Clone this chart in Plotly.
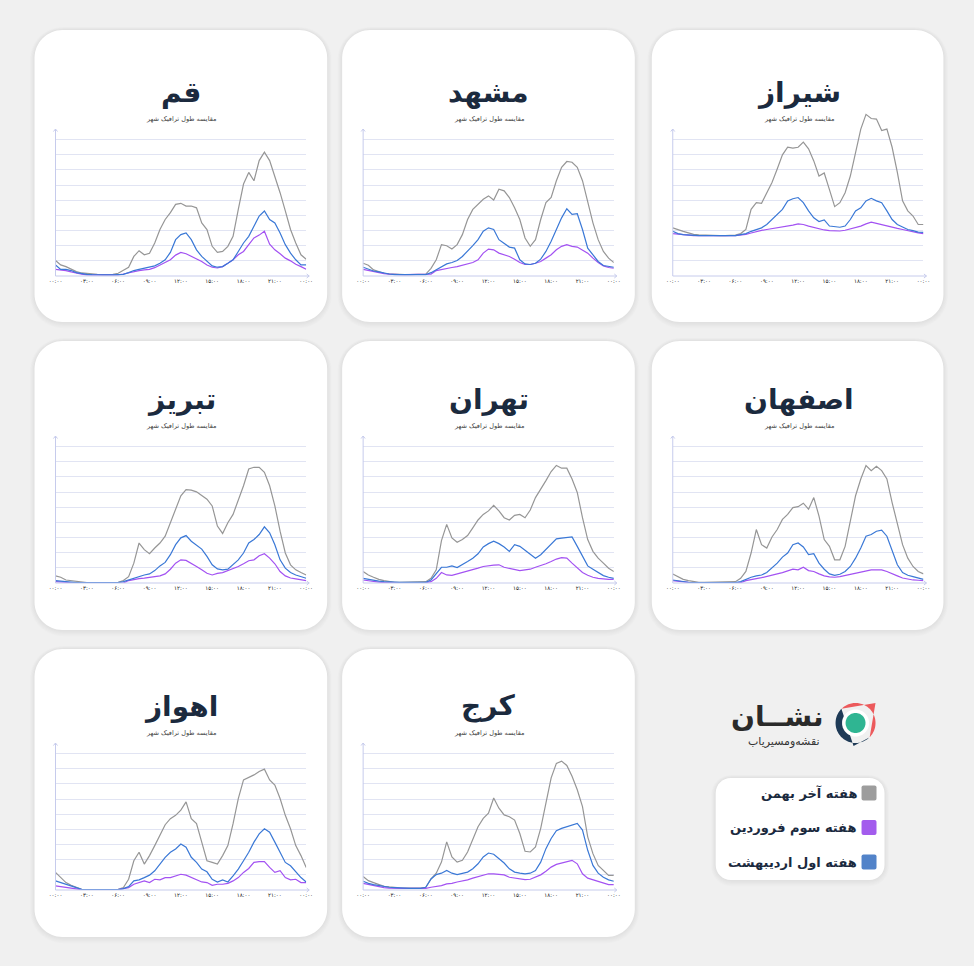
import math
import plotly.graph_objects as go

W, H = 974, 966
# horizontal calibration of the rendered page (measured from the previous renders)
X_OFF, X_SCALE = 6.45, 0.9868

def X(x):
    return ((x - X_OFF) / X_SCALE) / W

def Y(y):
    return 1 - y / H

HOURS = [0, 0.5, 1, 1.5, 2, 2.5, 3, 3.5, 4, 4.5, 5, 5.5, 6, 6.5, 7, 7.5, 8, 8.5, 9, 9.5,
         10, 10.5, 11, 11.5, 12, 12.5, 13, 13.5, 14, 14.5, 15, 15.5, 16, 16.5, 17, 17.5,
         18, 18.5, 19, 19.5, 20, 20.5, 21, 21.5, 22, 22.5, 23, 23.5, 24]
TICK_VALS = [0, 3, 6, 9, 12, 15, 18, 21, 24]
TICK_TEXT = ["۰۰:۰۰", "۰۳:۰۰", "۰۶:۰۰", "۰۹:۰۰", "۱۲:۰۰", "۱۵:۰۰", "۱۸:۰۰", "۲۱:۰۰", "۰۰:۰۰"]
SERIES_NAMES = ["هفته آخر بهمن", "هفته سوم فروردین", "هفته اول اردیبهشت"]
LINE_COLORS = ["#969696", "#a352f2", "#3a78d6"]
LEGEND_COLORS = ["#9d9d9d", "#a35ced", "#5283c9"]
SUBTITLE = "مقایسه طول ترافیک شهر"

# ---- data (relative traffic length, per half hour) ----
SHIRAZ_BAHMAN = [31.8, 30.5, 29.5, 28.5, 27.5, 27.2, 27.0, 26.8, 26.8, 26.7, 26.7, 26.8, 27.0, 28.0,
                 30.7, 44.0, 48.4, 48.0, 55.0, 61.8, 70.7, 80.0, 85.0, 84.4, 85.0, 88.4, 84.0, 76.0,
                 66.0, 68.0, 57.0, 45.8, 48.4, 55.0, 66.0, 82.0, 97.0, 106.7, 104.0, 103.6, 96.0, 97.0,
                 85.0, 68.4, 49.6, 43.0, 39.6, 34.0, 34.0]
SHIRAZ_FARVARDIN = [28.0, 27.6, 27.3, 27.0, 26.7, 26.7, 26.6, 26.6, 26.6, 26.6, 26.6, 26.6, 26.7, 26.9,
                    27.5, 28.4, 29.5, 30.1, 30.7, 31.2, 31.8, 32.3, 32.9, 33.6, 34.4, 34.0, 32.9, 31.9,
                    31.0, 30.4, 30.0, 29.8, 29.7, 30.2, 31.0, 32.0, 32.9, 34.4, 35.5, 34.7, 34.0, 33.1,
                    32.2, 31.4, 30.7, 29.8, 29.0, 28.5, 28.0]
SHIRAZ_ORDIBEHESHT = [29.5, 28.0, 27.3, 27.0, 26.7, 26.7, 26.7, 26.6, 26.6, 26.6, 26.6, 26.7, 26.7, 27.2,
                      28.0, 29.5, 30.7, 31.8, 34.0, 37.3, 40.7, 44.0, 49.6, 51.0, 51.8, 48.4, 43.0, 38.4,
                      36.0, 37.0, 33.0, 32.4, 32.2, 33.0, 37.3, 43.0, 45.0, 49.6, 51.3, 49.6, 48.4, 43.0,
                      37.3, 34.0, 32.2, 30.7, 30.0, 29.0, 28.8]

QOM_BAHMAN = [10.2, 7.3, 6.2, 4.4, 2.9, 2.0, 1.6, 1.3, 1.1, 0.9, 0.9, 1.1, 1.8, 3.6,
              5.8, 12.9, 16.7, 14.0, 15.0, 21.8, 30.7, 37.3, 41.8, 47.3, 48.0, 46.2, 46.2, 45.0,
              35.0, 30.7, 19.6, 15.6, 16.2, 19.6, 26.2, 44.0, 60.7, 68.4, 62.9, 76.2, 81.8, 76.2,
              66.2, 55.0, 43.0, 30.7, 21.8, 14.0, 11.1]
QOM_FARVARDIN = [4.4, 4.0, 3.6, 2.7, 1.8, 1.2, 0.7, 0.7, 0.7, 0.7, 0.7, 0.7, 0.7, 1.3,
                 2.2, 2.9, 3.6, 4.0, 4.4, 5.5, 7.3, 8.9, 10.7, 13.8, 15.6, 14.7, 12.9, 11.6,
                 9.6, 7.3, 5.8, 5.3, 6.2, 8.4, 10.7, 14.0, 16.2, 20.7, 25.1, 27.0, 29.6, 21.0,
                 17.3, 14.7, 11.8, 10.0, 7.8, 6.2, 4.4]
QOM_ORDIBEHESHT = [7.3, 4.4, 4.4, 3.6, 2.2, 1.6, 1.1, 0.9, 0.7, 0.7, 0.7, 0.7, 0.7, 1.1,
                   2.2, 3.6, 4.4, 5.1, 5.8, 6.7, 8.4, 10.7, 15.6, 24.0, 27.3, 28.4, 24.0, 17.3,
                   12.9, 9.6, 6.7, 5.8, 6.2, 8.4, 10.7, 16.2, 21.8, 26.2, 32.9, 39.6, 42.9, 37.3,
                   35.0, 28.4, 20.7, 15.1, 10.7, 7.3, 7.3]

MASHHAD_BAHMAN = [8.4, 7.1, 4.0, 2.9, 1.8, 1.4, 1.1, 1.0, 0.9, 0.9, 0.9, 0.9, 1.3, 5.1,
                  10.7, 20.7, 20.0, 17.8, 20.7, 27.3, 37.3, 44.0, 47.3, 50.7, 52.9, 50.2, 57.3, 56.2,
                  51.8, 45.1, 37.3, 25.1, 19.6, 24.0, 37.3, 48.4, 51.8, 62.9, 71.8, 75.6, 75.1, 71.8,
                  62.9, 48.4, 35.1, 24.0, 16.2, 11.8, 8.9]
MASHHAD_FARVARDIN = [4.4, 3.6, 2.9, 2.2, 1.6, 1.2, 0.9, 0.9, 0.9, 0.9, 0.9, 0.9, 0.9, 1.3,
                     3.6, 4.4, 4.9, 5.6, 6.2, 7.1, 8.0, 8.9, 10.7, 15.1, 17.8, 17.3, 15.1, 14.2,
                     12.9, 11.1, 8.9, 7.6, 7.6, 8.4, 9.6, 11.8, 14.0, 17.3, 19.6, 20.7, 19.6, 19.1,
                     17.3, 15.1, 11.8, 8.9, 6.7, 5.6, 5.1]
MASHHAD_ORDIBEHESHT = [5.8, 4.4, 3.3, 2.7, 1.8, 1.3, 0.9, 0.9, 0.9, 0.9, 0.9, 0.9, 0.9, 2.2,
                       4.0, 6.2, 8.0, 8.9, 10.2, 12.9, 16.2, 20.0, 24.0, 29.6, 31.8, 30.7, 24.0, 21.3,
                       19.1, 18.4, 10.7, 8.0, 7.6, 8.4, 11.1, 16.2, 22.9, 30.7, 38.4, 44.4, 40.7, 41.1,
                       30.7, 18.4, 14.0, 9.6, 6.9, 6.2, 5.8]

TABRIZ_BAHMAN = [4.7, 3.8, 2.0, 1.6, 0.9, 0.5, 0.2, 0.2, 0.2, 0.2, 0.2, 0.2, 0.4, 1.6,
                 4.2, 13.1, 26.4, 22.0, 19.3, 23.1, 26.4, 30.9, 39.8, 48.7, 57.6, 61.6, 61.3, 60.2,
                 57.6, 55.3, 50.9, 37.6, 32.7, 39.8, 45.3, 54.2, 64.2, 75.3, 76.4, 76.4, 73.1, 64.2,
                 50.9, 34.2, 19.8, 12.0, 8.7, 6.9, 5.3]
TABRIZ_FARVARDIN = [0.9, 0.6, 0.4, 0.2, 0.0, 0.0, 0.0, 0.0, 0.0, 0.0, 0.0, 0.0, 0.0, 0.0,
                    1.6, 2.4, 2.9, 3.2, 3.6, 4.2, 4.7, 6.0, 9.1, 13.1, 15.3, 14.9, 13.1, 10.9,
                    8.7, 6.4, 5.3, 6.4, 6.9, 8.2, 9.1, 10.9, 12.7, 14.7, 15.3, 18.0, 19.3, 16.4,
                    12.7, 7.6, 4.7, 3.3, 2.7, 2.0, 1.6]
TABRIZ_ORDIBEHESHT = [1.6, 1.2, 0.9, 0.5, 0.2, 0.2, 0.2, 0.2, 0.2, 0.2, 0.2, 0.2, 0.2, 0.9,
                      2.0, 3.3, 4.2, 5.3, 6.0, 8.2, 11.3, 13.6, 18.7, 25.3, 29.8, 31.3, 27.6, 24.7,
                      22.4, 17.6, 12.0, 9.3, 8.7, 9.1, 12.0, 15.3, 19.8, 26.4, 28.7, 32.0, 37.1, 33.1,
                      25.3, 15.3, 9.8, 6.9, 5.3, 4.2, 3.1]

TEHRAN_BAHMAN = [7.6, 5.3, 3.8, 2.4, 1.6, 0.9, 0.4, 0.4, 0.4, 0.4, 0.4, 0.4, 0.9, 3.1,
                 8.7, 28.0, 38.7, 29.8, 26.9, 28.7, 31.3, 36.4, 41.6, 45.3, 47.6, 51.3, 47.6, 43.1,
                 41.6, 44.7, 45.3, 43.1, 48.2, 56.4, 61.6, 67.6, 73.6, 77.6, 75.8, 75.8, 68.7, 59.8,
                 43.1, 28.7, 20.9, 16.4, 13.1, 9.8, 7.6]
TEHRAN_FARVARDIN = [2.0, 1.4, 0.9, 0.6, 0.2, 0.2, 0.2, 0.2, 0.2, 0.2, 0.2, 0.2, 0.2, 0.9,
                    3.1, 6.9, 5.3, 5.1, 6.0, 6.9, 7.6, 8.7, 9.8, 10.9, 11.6, 11.8, 12.0, 10.4,
                    9.6, 8.7, 8.2, 8.7, 9.1, 10.4, 11.3, 12.7, 14.2, 15.8, 16.7, 16.4, 13.1, 9.8,
                    6.9, 5.1, 3.8, 3.1, 2.7, 2.4, 2.4]
TEHRAN_ORDIBEHESHT = [3.1, 2.4, 1.6, 1.2, 0.9, 0.6, 0.4, 0.4, 0.4, 0.4, 0.4, 0.4, 0.4, 2.0,
                      6.4, 10.4, 10.4, 11.3, 10.2, 12.0, 14.2, 16.4, 19.3, 23.8, 26.0, 27.6, 26.0, 23.8,
                      20.9, 25.3, 24.2, 21.6, 18.7, 16.4, 18.7, 22.0, 25.3, 29.1, 29.6, 30.2, 30.4, 24.2,
                      17.6, 11.3, 9.1, 6.9, 4.9, 3.8, 3.1]

ISFAHAN_BAHMAN = [6.0, 4.2, 2.4, 1.6, 0.9, 0.4, 0.4, 0.4, 0.4, 0.4, 0.4, 0.4, 0.9, 3.1,
                  7.6, 19.8, 35.3, 25.3, 23.1, 30.4, 35.3, 42.0, 45.3, 49.8, 50.4, 52.7, 48.7, 56.4,
                  44.2, 28.7, 24.2, 15.3, 15.3, 24.2, 39.8, 57.6, 68.7, 77.6, 74.2, 77.1, 74.2, 68.7,
                  53.1, 39.8, 25.3, 16.4, 10.9, 7.6, 6.0]
ISFAHAN_FARVARDIN = [1.6, 1.1, 0.7, 0.4, 0.2, 0.2, 0.2, 0.2, 0.2, 0.2, 0.2, 0.2, 0.2, 0.2,
                     1.6, 2.4, 2.9, 3.5, 4.2, 5.1, 6.0, 6.9, 7.8, 9.1, 8.7, 10.4, 8.2, 7.6,
                     6.0, 4.7, 4.0, 3.8, 4.2, 4.9, 5.6, 6.4, 6.9, 7.6, 8.7, 8.7, 8.7, 7.6,
                     6.4, 4.7, 3.3, 2.4, 2.0, 1.8, 1.6]
ISFAHAN_ORDIBEHESHT = [2.0, 1.4, 0.9, 0.5, 0.2, 0.2, 0.2, 0.2, 0.2, 0.2, 0.2, 0.2, 0.2, 0.9,
                       2.4, 3.8, 4.7, 5.3, 6.9, 9.8, 13.1, 17.1, 19.8, 25.3, 26.4, 23.8, 18.7, 19.3,
                       13.1, 9.1, 6.0, 5.1, 5.8, 7.6, 10.9, 16.4, 23.1, 30.9, 32.0, 34.2, 34.9, 30.9,
                       22.0, 12.0, 6.9, 5.1, 4.2, 3.3, 2.4]

AHVAZ_BAHMAN = [11.6, 8.2, 4.9, 3.1, 1.6, 0.4, 0.2, 0.2, 0.2, 0.2, 0.2, 0.2, 0.4, 1.6,
                7.1, 19.3, 24.9, 17.1, 22.7, 29.3, 36.0, 43.1, 47.1, 49.3, 52.7, 58.2, 47.1, 43.8,
                31.6, 19.3, 18.2, 17.1, 22.7, 29.3, 43.8, 60.4, 72.7, 74.2, 76.0, 78.2, 79.8, 72.7,
                69.3, 60.4, 49.3, 40.4, 29.3, 22.7, 14.9]
AHVAZ_FARVARDIN = [2.7, 2.2, 1.6, 0.9, 0.4, 0.2, 0.2, 0.2, 0.2, 0.2, 0.2, 0.2, 0.2, 0.9,
                   1.6, 3.8, 4.9, 6.0, 4.9, 7.1, 6.7, 8.2, 8.2, 9.3, 10.4, 9.8, 8.2, 6.7,
                   5.3, 4.9, 3.1, 3.8, 3.8, 4.4, 6.0, 8.2, 11.6, 14.2, 18.2, 18.7, 18.7, 14.9,
                   11.6, 12.7, 8.2, 6.7, 7.1, 4.9, 4.9]
AHVAZ_ORDIBEHESHT = [6.0, 4.9, 3.3, 2.2, 1.6, 0.4, 0.2, 0.2, 0.2, 0.2, 0.2, 0.2, 0.2, 0.9,
                     2.2, 6.0, 6.7, 8.2, 9.8, 12.7, 17.1, 21.6, 24.9, 27.1, 30.4, 28.2, 21.6, 18.2,
                     13.8, 12.0, 7.1, 5.3, 6.7, 5.3, 9.3, 13.8, 19.3, 24.9, 31.6, 37.1, 40.4, 38.2,
                     31.6, 24.9, 18.2, 16.0, 12.0, 8.2, 5.3]

KARAJ_BAHMAN = [8.9, 6.2, 4.9, 3.6, 2.4, 2.0, 1.6, 1.4, 1.3, 1.2, 1.1, 1.3, 1.8, 7.3,
                11.1, 18.4, 31.8, 21.8, 18.4, 19.6, 25.1, 32.9, 41.8, 47.3, 50.7, 60.7, 54.0, 49.6,
                48.4, 46.2, 37.3, 25.6, 25.1, 28.4, 40.7, 57.3, 74.0, 83.6, 85.1, 82.2, 75.1, 66.2,
                55.1, 35.1, 24.0, 16.2, 12.9, 9.6, 9.6]
KARAJ_FARVARDIN = [4.4, 3.6, 2.9, 2.2, 1.6, 1.3, 1.1, 1.1, 1.1, 1.1, 1.1, 1.1, 1.1, 1.8,
                   2.2, 2.9, 4.0, 4.4, 5.3, 5.8, 6.7, 7.8, 8.9, 9.8, 10.7, 10.7, 10.2, 10.0,
                   8.4, 8.0, 7.6, 6.9, 7.1, 8.4, 10.0, 12.4, 15.1, 16.9, 17.8, 18.9, 19.6, 17.3,
                   10.7, 7.8, 6.7, 5.6, 4.4, 3.6, 3.6]
KARAJ_ORDIBEHESHT = [5.8, 4.4, 3.6, 2.9, 2.2, 1.8, 1.6, 1.3, 1.1, 1.1, 1.1, 1.1, 1.8, 7.3,
                     10.2, 11.1, 12.9, 11.1, 10.2, 11.1, 11.8, 14.0, 17.3, 21.8, 24.4, 23.6, 20.7, 17.8,
                     14.0, 11.8, 11.1, 10.7, 11.1, 12.9, 18.4, 27.3, 34.0, 39.1, 40.7, 41.8, 42.9, 44.0,
                     39.6, 26.2, 16.2, 11.1, 8.4, 6.7, 5.8]

CITIES = ["قم", "مشهد", "شیراز", "تبریز", "تهران", "اصفهان", "اهواز", "کرج"]
CITY_DATA = [
    (QOM_BAHMAN, QOM_FARVARDIN, QOM_ORDIBEHESHT),
    (MASHHAD_BAHMAN, MASHHAD_FARVARDIN, MASHHAD_ORDIBEHESHT),
    (SHIRAZ_BAHMAN, SHIRAZ_FARVARDIN, SHIRAZ_ORDIBEHESHT),
    (TABRIZ_BAHMAN, TABRIZ_FARVARDIN, TABRIZ_ORDIBEHESHT),
    (TEHRAN_BAHMAN, TEHRAN_FARVARDIN, TEHRAN_ORDIBEHESHT),
    (ISFAHAN_BAHMAN, ISFAHAN_FARVARDIN, ISFAHAN_ORDIBEHESHT),
    (AHVAZ_BAHMAN, AHVAZ_FARVARDIN, AHVAZ_ORDIBEHESHT),
    (KARAJ_BAHMAN, KARAJ_FARVARDIN, KARAJ_ORDIBEHESHT),
]
# chart anchor (left, top) of each card's content
CARD_POS = [(34, 30), (342, 30), (652, 30), (34, 337), (342, 337), (652, 337), (34, 644), (342, 644)]
# card rectangles (x0, y0, x1, y1)
COL_X = [(34, 327), (342, 635), (652, 944)]
ROW_Y = [(30, 322), (341, 630), (649, 937)]

FONT = "DejaVu Sans"
NAVY = "#1b2a3e"


def rrect(x0, y0, x1, y1, r):
    k = 0.5523 * r
    pts = [
        f"M {X(x0 + r)},{Y(y0)}",
        f"L {X(x1 - r)},{Y(y0)}",
        f"C {X(x1 - r + k)},{Y(y0)} {X(x1)},{Y(y0 + r - k)} {X(x1)},{Y(y0 + r)}",
        f"L {X(x1)},{Y(y1 - r)}",
        f"C {X(x1)},{Y(y1 - r + k)} {X(x1 - r + k)},{Y(y1)} {X(x1 - r)},{Y(y1)}",
        f"L {X(x0 + r)},{Y(y1)}",
        f"C {X(x0 + r - k)},{Y(y1)} {X(x0)},{Y(y1 - r + k)} {X(x0)},{Y(y1 - r)}",
        f"L {X(x0)},{Y(y0 + r)}",
        f"C {X(x0)},{Y(y0 + r - k)} {X(x0 + r - k)},{Y(y0)} {X(x0 + r)},{Y(y0)}",
        "Z",
    ]
    return " ".join(pts)


def card(shapes, x0, y0, x1, y1, r):
    for s in range(8, 0, -1):
        shapes.append(dict(type="path", xref="paper", yref="paper", layer="below",
                           path=rrect(x0 - s * 0.6, y0 - s * 0.4, x1 + s * 0.6, y1 + s * 0.8, r + s * 0.6),
                           fillcolor="rgba(0,0,0,0.009)", line=dict(width=0)))
    shapes.append(dict(type="path", xref="paper", yref="paper", layer="below",
                       path=rrect(x0, y0, x1, y1, r), fillcolor="#ffffff", line=dict(width=0)))


def poly(points):
    s = "M " + " L ".join(f"{X(a)},{Y(b)}" for a, b in points) + " Z"
    return s


def circle_pts(cx, cy, r, a0=0, a1=360, n=60):
    return [(cx + r * math.cos(math.radians(a0 + (a1 - a0) * i / n)),
             cy - r * math.sin(math.radians(a0 + (a1 - a0) * i / n))) for i in range(n + 1)]


fig = go.Figure()
shapes = []
annotations = []
layout = {}

for i, (name, series, (cx, cy)) in enumerate(zip(CITIES, CITY_DATA, CARD_POS)):
    n = i + 1
    xs = "x" if n == 1 else f"x{n}"
    ys = "y" if n == 1 else f"y{n}"
    (cx0, cx1), (cy0, cy1) = COL_X[i % 3], ROW_Y[i // 3]
    card(shapes, cx0, cy0, cx1, cy1, 28)

    layout["xaxis" if n == 1 else f"xaxis{n}"] = dict(
        domain=[X(cx + 21), X(cx + 272)], range=[0, 24], anchor=ys,
        tickvals=TICK_VALS, ticktext=TICK_TEXT, tickfont=dict(size=5.5, color="#111", family=FONT),
        showgrid=False, zeroline=False, showline=False, ticks="", fixedrange=True)
    layout["yaxis" if n == 1 else f"yaxis{n}"] = dict(
        domain=[Y(cy + 246), Y(cy + 80)], range=[0, 109.6], anchor=xs,
        tickvals=[10, 20, 30, 40, 50, 60, 70, 80, 90], showticklabels=False,
        gridcolor="#e1e4f3", gridwidth=1, zeroline=False, showline=False, ticks="", fixedrange=True)

    for vals, nm, col in zip(series, SERIES_NAMES, LINE_COLORS):
        fig.add_trace(go.Scatter(x=HOURS, y=vals, mode="lines", name=nm,
                                 line=dict(color=col, width=1.2), xaxis=xs, yaxis=ys,
                                 showlegend=False, hoverinfo="skip"))

    ax = "#c6cbec"
    shapes.append(dict(type="line", xref="paper", yref="paper", x0=X(cx + 21), y0=Y(cy + 246),
                       x1=X(cx + 21), y1=Y(cy + 99), line=dict(color=ax, width=1)))
    shapes.append(dict(type="line", xref="paper", yref="paper", x0=X(cx + 21), y0=Y(cy + 246),
                       x1=X(cx + 275), y1=Y(cy + 246), line=dict(color=ax, width=1)))
    shapes.append(dict(type="path", xref="paper", yref="paper",
                       path=f"M {X(cx + 19)},{Y(cy + 101.5)} L {X(cx + 21)},{Y(cy + 99)} L {X(cx + 23)},{Y(cy + 101.5)}",
                       line=dict(color=ax, width=1)))
    shapes.append(dict(type="path", xref="paper", yref="paper",
                       path=f"M {X(cx + 272.5)},{Y(cy + 244)} L {X(cx + 275)},{Y(cy + 246)} L {X(cx + 272.5)},{Y(cy + 248)}",
                       line=dict(color=ax, width=1)))

    annotations.append(dict(x=X(cx + 147), y=Y(cy + 62), xref="paper", yref="paper", text=name,
                            showarrow=False, xanchor="center", yanchor="middle",
                            font=dict(size=28, color=NAVY, family=FONT, weight="bold")))
    annotations.append(dict(x=X(cx + 147), y=Y(cy + 89), xref="paper", yref="paper", text=SUBTITLE,
                            showarrow=False, xanchor="center", yanchor="middle",
                            font=dict(size=6.5, color="#444", family=FONT)))

# legend card
card(shapes, 716, 778, 885, 880, 15)
for k, (nm, col) in enumerate(zip(SERIES_NAMES, LEGEND_COLORS)):
    yy = 793 + k * 34.5
    shapes.append(dict(type="path", xref="paper", yref="paper", path=rrect(862, yy - 7.5, 877, yy + 7.5, 2),
                       fillcolor=col, line=dict(width=0)))
    annotations.append(dict(x=X(859), y=Y(yy), xref="paper", yref="paper", text=nm, showarrow=False,
                            xanchor="right", yanchor="middle",
                            font=dict(size=13, color=NAVY, family=FONT, weight="bold")))

# logo
lcx, lcy = 856, 723
shapes.append(dict(type="path", xref="paper", yref="paper",
                   path=poly(circle_pts(lcx, lcy, 20, -45, 135) + [(lcx + 20, lcy - 20)]),
                   fillcolor="#ec5a5c", line=dict(width=0)))
shapes.append(dict(type="path", xref="paper", yref="paper",
                   path=poly(circle_pts(lcx, lcy, 20, 135, 315) + [(lcx - 2, lcy + 23)]),
                   fillcolor="#1e3a56", line=dict(width=0)))
shapes.append(dict(type="path", xref="paper", yref="paper", path=poly(circle_pts(lcx, lcy, 13.5)),
                   fillcolor="#ffffff", line=dict(width=0)))
shapes.append(dict(type="path", xref="paper", yref="paper", path=poly(circle_pts(lcx, lcy, 10)),
                   fillcolor="#2fb592", line=dict(width=0)))
annotations.append(dict(x=X(826), y=Y(716), xref="paper", yref="paper", text="نشــان", showarrow=False,
                        xanchor="right", yanchor="middle",
                        font=dict(size=28, color="#2a2a2a", family=FONT, weight="bold")))
annotations.append(dict(x=X(822), y=Y(741), xref="paper", yref="paper", text="نقشه‌و‌مسیریاب",
                        showarrow=False, xanchor="right", yanchor="middle",
                        font=dict(size=11, color="#333", family=FONT)))

fig.update_layout(width=W, height=H, autosize=False, margin=dict(l=0, r=0, t=0, b=0),
                  paper_bgcolor="#f0f0f0", plot_bgcolor="rgba(0,0,0,0)",
                  shapes=shapes, annotations=annotations, showlegend=False, **layout)
fig.write_html("out.html", config={"responsive": False})
